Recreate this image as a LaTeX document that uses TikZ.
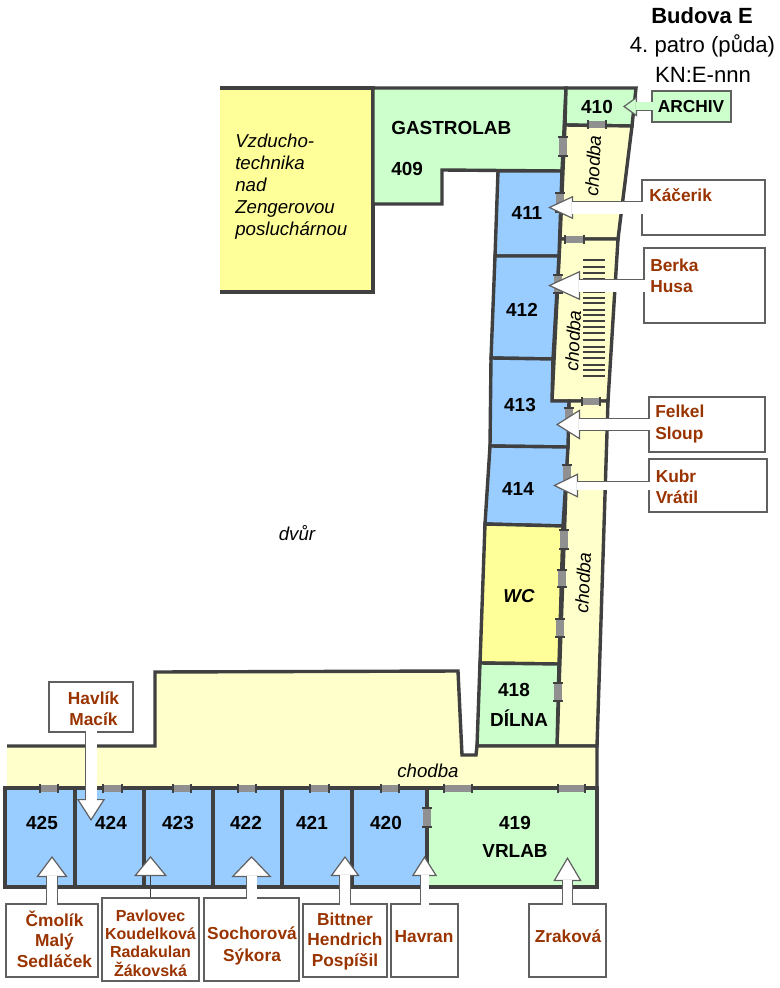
\documentclass[tikz,border=0pt]{standalone}
\usepackage{fontspec}
\setmainfont{Liberation Sans}
\usetikzlibrary{arrows.meta}

\definecolor{wallgray}{HTML}{404040}
\definecolor{doorgray}{HTML}{909090}
\definecolor{roomblue}{HTML}{99CCFF}
\definecolor{roomgreen}{HTML}{CCFFCC}
\definecolor{roomyellow}{HTML}{FFFF99}
\definecolor{hallyellow}{HTML}{FFFFCC}
\definecolor{namebrown}{HTML}{993300}
\definecolor{edgegray}{HTML}{606060}

\tikzset{
  wall/.style={draw=wallgray,line width=2.55pt},
  stairline/.style={draw=wallgray,line width=1.1pt},
  doorcap/.style={draw=wallgray,line width=1.1pt},
  roomnum/.style={font=\fontsize{14.2}{16}\selectfont\bfseries,inner sep=0pt,align=center},
  hallname/.style={font=\fontsize{14}{16}\selectfont\itshape,inner sep=0pt},
  person/.style={font=\fontsize{13}{16}\selectfont\bfseries,text=namebrown,inner sep=0pt},
  boxframe/.style={draw=edgegray,fill=white,line width=0.9pt,inner sep=0pt},
}

% box from corner to corner, in pixels of the plan
\newcommand{\namebox}[5]{
  \node[boxframe,minimum width={(#4-#2)*0.75pt},minimum height={(#5-#3)*0.75pt}] (#1) at ({(#2+#4)/2},{(#3+#5)/2}) {};
}
% block arrow: start, tip, shaft, head length, head width
\newcommand{\pointer}[6][white]{
  \draw[edgegray,line width={(#4+1.4)*0.75pt},-{Triangle[length=#5*0.75pt,width=#6*0.75pt,fill=#1,line width=0.9pt]}] (#2) -- (#3);
  \draw[#1,line width={#4*0.75pt},shorten <=-1pt,shorten >={(#5-1.5)*0.75pt}] (#2) -- (#3);
}
% doors on a wall
\newcommand{\hdoor}[3]{
  \fill[doorgray] (#1,{#3-3.5}) rectangle (#2,{#3+3.5});
  \draw[doorcap] (#1,{#3-4.5}) -- (#1,{#3+4.5});
  \draw[doorcap] (#2,{#3-4.5}) -- (#2,{#3+4.5});
}
\newcommand{\vdoor}[3]{
  \fill[doorgray] ({#1-4},#2) rectangle ({#1+4},#3);
  \draw[doorcap] ({#1-5},#2) -- ({#1+5},#2);
  \draw[doorcap] ({#1-5},#3) -- ({#1+5},#3);
}

\begin{document}
\begin{tikzpicture}[x=0.75pt,y=-0.75pt]
  \useasboundingbox (0,0) rectangle (779,988);

  % air handling room, no wall on the left
  \fill[roomyellow] (220,88) rectangle (373,292);
  \draw[wall] (220,88) -- (373,88) -- (373,292) -- (220,292);

  % rooms along the top and the wing
  \filldraw[wall,fill=roomgreen] (373,88) -- (566,88) -- (562,171) -- (442,170) -- (442,204) -- (373,204) -- cycle;
  \filldraw[wall,fill=roomgreen] (566,88) -- (636,88) -- (632,126) -- (565,125) -- cycle;
  \filldraw[wall,fill=hallyellow] (565,125) -- (632,126) -- (618,239) -- (560,239) -- cycle;
  \filldraw[wall,fill=hallyellow] (560,239) -- (618,239) -- (608,401) -- (552,401) -- cycle;
  \filldraw[wall,fill=hallyellow] (569,401) -- (608,401) -- (597,746) -- (557,746) -- cycle;
  \filldraw[wall,fill=roomblue] (498,171) -- (562,171) -- (559,256) -- (495,256) -- cycle;
  \filldraw[wall,fill=roomblue] (495,256) -- (559,256) -- (553,359) -- (491,358) -- cycle;
  \filldraw[wall,fill=roomblue] (491,358) -- (553,359) -- (552,401) -- (569,401) -- (568,447) -- (490,446) -- cycle;
  \filldraw[wall,fill=roomblue] (490,446) -- (568,447) -- (563,526) -- (485,524) -- cycle;
  \filldraw[wall,fill=roomyellow] (485,524) -- (563,526) -- (559,664) -- (480,663) -- cycle;
  \filldraw[wall,fill=roomgreen] (480,663) -- (559,664) -- (557,746) -- (477,746) -- cycle;

  % long corridor, open on the left
  \fill[hallyellow] (7,746) -- (155,746) -- (155,672) -- (458,671) -- (462,755) -- (476,755) -- (477,746) -- (597,746) -- (597,788) -- (7,788) -- cycle;
  \draw[wall] (7,746) -- (155,746) -- (155,672) -- (458,671) -- (462,755) -- (476,755) -- (477,746) -- (597,746) -- (597,788);

  % bottom row of rooms
  \foreach \xa/\xb/\tint in {5/75/roomblue,75/144/roomblue,144/213/roomblue,213/282/roomblue,282/352/roomblue,352/427/roomblue,427/597/roomgreen}{
    \filldraw[wall,fill=\tint] (\xa,788) rectangle (\xb,887);
  }

  % stairs
  \foreach \y in {260,267,273,279,285,292,298,303,310,315,321,327,333,340,347,352,358,365,370,376}{
    \draw[stairline] (583,\y) -- (605,\y);
  }

  % doors
  \foreach \xa/\xb/\ya in {588/606/125,565/584/239,582/600/401,40/58/788,103/122/788,173/191/788,238/256/788,310/329/788,381/399/788,444/472/788,558/585/788}{
    \hdoor{\xa}{\xb}{\ya}
  }
  \foreach \xa/\ya/\yb in {563/137/156,560/193/212,558/275/293,569/408/425,567/465/483,564/530/549,562/570/587,560/619/637,558/683/701,427/808/827}{
    \vdoor{\xa}{\ya}{\yb}
  }

  % title
  \node[font=\fontsize{16.5}{18}\selectfont\bfseries,inner sep=0pt] (title) at (702,16) {Budova E};
  \node[font=\fontsize{16.6}{18}\selectfont,inner sep=0pt] (floor) at (702.5,46) {4.\ patro (půda)};
  \node[font=\fontsize{16.6}{18}\selectfont,inner sep=0pt] (code) at (703,75) {KN:E-nnn};

  % room labels
  \node[hallname,font=\fontsize{14}{16.5}\selectfont\itshape,anchor=west,align=left] (air) at (235,187) {Vzducho-\\technika\\nad\\Zengerovou\\posluchárnou};
  \node[roomnum,anchor=west] (gastro) at (391,128) {GASTROLAB};
  \node[roomnum,anchor=west] (r409) at (391,169) {409};
  \node[roomnum] (r410) at (597,107) {410};
  \node[roomnum] (r411) at (527,212.5) {411};
  \node[roomnum] (r412) at (522,309.5) {412};
  \node[roomnum] (r413) at (520,404.5) {413};
  \node[roomnum] (r414) at (518,488.5) {414};
  \node[roomnum,font=\fontsize{14}{16}\selectfont\bfseries\itshape] (wc) at (519,596) {WC};
  \node[roomnum] (r418) at (514,689.5) {418};
  \node[roomnum] (dilna) at (519,718) {DÍLNA};
  \node[roomnum] (r419) at (515,822.5) {419};
  \node[roomnum] (vrlab) at (515,851) {VRLAB};
  \foreach \xa/\num in {42/425,111/424,178/423,246/422,312/421,386/420}{
    \node[roomnum] (r\num) at (\xa,822.5) {\num};
  }
  \node[hallname,rotate=87] (halla) at (593,166) {chodba};
  \node[hallname,rotate=87] (hallb) at (573,341) {chodba};
  \node[hallname,rotate=87] (hallc) at (583,583) {chodba};
  \node[hallname] (halld) at (428,771) {chodba};
  \node[hallname] (yard) at (297,533) {dvůr};

  % name boxes
  \namebox{archiv}{652}{91}{731}{122}
  \path (archiv) node[boxframe,draw=none,fill=roomgreen,minimum width=58pt,minimum height=22pt] {};
  \draw[edgegray,line width=0.9pt] (archiv.north west) rectangle (archiv.south east);
  \namebox{kacerik}{642}{180}{765}{235}
  \namebox{berka}{644}{248}{765}{323}
  \namebox{felkel}{649}{397}{765}{452}
  \namebox{kubr}{649}{459}{767}{512}
  \namebox{havlik}{49}{682}{133}{732}
  \namebox{cmolik}{6}{904}{98}{977}
  \namebox{pavlovec}{102}{898}{199}{981}
  \namebox{sochorova}{204}{898}{299}{981}
  \namebox{bittner}{303}{904}{387}{977}
  \namebox{havran}{391}{904}{458}{977}
  \namebox{zrakova}{529}{904}{606}{977}

  % names
  \node[roomnum,font=\fontsize{13}{16}\selectfont\bfseries] (archivt) at (691,107) {ARCHIV};
  \node[person,anchor=west] (kacerikt) at (649,195.5) {Káčerik};
  \node[person,anchor=west,align=left] (berkat) at (650,275.5) {Berka\\Husa};
  \node[person,anchor=west,align=left] (felkelt) at (655,424) {Felkel\\Sloup};
  \node[person,anchor=west,align=left] (kubrt) at (655.5,486.5) {Kubr\\Vrátil};
  \node[person,align=center] (havlikt) at (93.5,708.5) {Havlík\\Macík};
  \node[person,align=center,font=\fontsize{13}{15.4}\selectfont\bfseries] (cmolikt) at (54.5,939) {Čmolík\\Malý\\Sedláček};
  \node[person,align=center,font=\fontsize{12}{13.8}\selectfont\bfseries] (pavlovect) at (150.5,943) {Pavlovec\\Koudelková\\Radakulan\\Žákovská};
  \node[person,align=center] (sochorovat) at (252,946) {Sochorová\\Sýkora};
  \node[person,align=center,font=\fontsize{13}{15.4}\selectfont\bfseries] (bittnert) at (345,941.5) {Bittner\\Hendrich\\Pospíšil};
  \node[person] (havrant) at (424,936.5) {Havran};
  \node[person] (zrakovat) at (568,936.5) {Zraková};

  % arrow tips
  \coordinate (archivtip) at (623,106.5);
  \coordinate (kaceriktip) at (548,207.5);
  \coordinate (berkatip) at (548,285.5);
  \coordinate (felkeltip) at (556,424.5);
  \coordinate (kubrtip) at (553,485.5);
  \coordinate (havliktip) at (91,821);
  \coordinate (cmoliktip) at (52,856);
  \coordinate (pavlovectip) at (150.5,856);
  \coordinate (sochorovatip) at (251.5,856);
  \coordinate (bittnertip) at (345,856);
  \coordinate (havrantip) at (424.5,856);
  \coordinate (zrakovatip) at (567.5,857);

  % arrows
  \pointer[roomgreen]{archiv.west}{archivtip}{8}{14}{20}
  \pointer{kacerik.west}{kaceriktip}{12}{25}{23}
  \pointer{berka.west}{berkatip}{12}{32}{29}
  \pointer{felkel.west}{felkeltip}{11}{24}{30}
  \pointer{kubr.west}{kubrtip}{8}{25}{24}
  \pointer{havlik.south}{havliktip}{11}{22}{28}
  \pointer{cmolik.north -| cmoliktip}{cmoliktip}{10}{21}{31}
  \draw[wallgray,line width=0.9pt,-{Triangle[length=15pt,width=24.5pt,fill=white,line width=0.9pt,color=edgegray]}] (pavlovec.north -| pavlovectip) -- (pavlovectip);
  \pointer{sochorova.north -| sochorovatip}{sochorovatip}{10}{21}{40}
  \pointer{bittner.north -| bittnertip}{bittnertip}{10}{20}{29}
  \pointer{havran.north -| havrantip}{havrantip}{8}{20}{25}
  \pointer{zrakova.north -| zrakovatip}{zrakovatip}{9}{24}{28}
\end{tikzpicture}
\end{document}
